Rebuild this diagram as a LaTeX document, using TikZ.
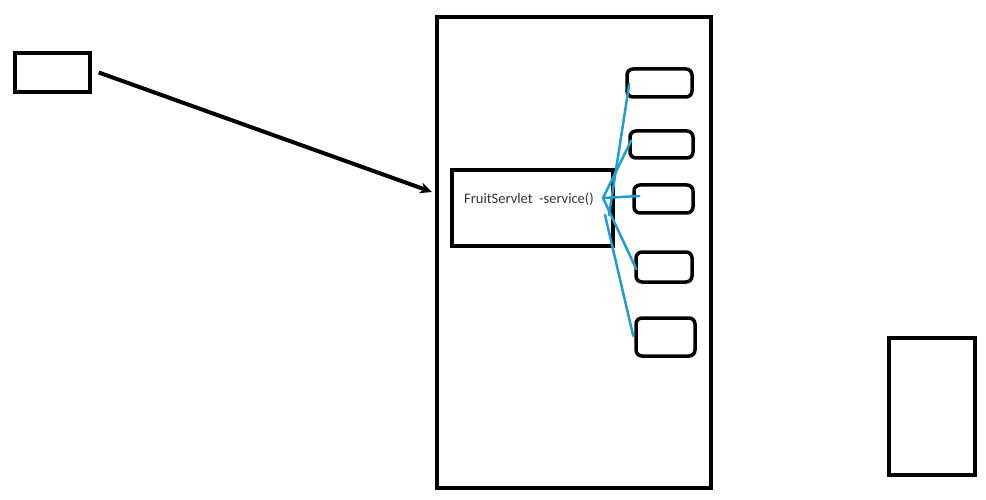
\documentclass[tikz,border=0pt]{standalone}
\usepackage{fontspec}
\setmainfont{Carlito}
\usetikzlibrary{arrows.meta}
\definecolor{ink}{HTML}{000000}
\definecolor{wire}{HTML}{1E9DD8}
\definecolor{label}{HTML}{333333}

\begin{document}
\begin{tikzpicture}[x=1pt,y=-1pt,
    frame/.style={draw=ink,line width=3.5pt,inner sep=0pt},
    slot/.style={frame,rounded corners=6pt},
    wireline/.style={wire,line width=2.5pt,line cap=round}]
  \useasboundingbox (0,0) rectangle (986,500);
  % outside boxes
  \node[frame,minimum width=75pt,minimum height=39pt] (client) at (52.5,72.5) {};
  \node[frame,minimum width=86pt,minimum height=137pt] (store) at (932,406.5) {};
  % container and servlet
  \node[frame,minimum width=274pt,minimum height=471pt] (container) at (574,252.5) {};
  \node[frame,minimum width=161pt,minimum height=76pt] (servlet) at (532.5,208) {};
  \node[anchor=west,text=label,inner sep=0pt] (servletname) at (464,199)
    {\fontsize{14.5}{14.5}\selectfont FruitServlet\ \ -service()};
  % method slots
  \node[slot,minimum width=65pt,minimum height=28pt] (m1) at (659.5,83) {};
  \node[slot,minimum width=63pt,minimum height=27pt] (m2) at (661.5,144.5) {};
  \node[slot,minimum width=59pt,minimum height=28pt] (m3) at (663.5,199) {};
  \node[slot,minimum width=56pt,minimum height=30pt] (m4) at (664,267) {};
  \node[slot,minimum width=59pt,minimum height=38pt] (m5) at (665.5,337) {};
  % request arrow
  \coordinate (entry) at (432,192);
  \draw[ink,line width=4pt,-{Stealth[length=12pt,width=11pt]}]
    ([xshift=7pt]client.east) -- (entry);
  % dispatch lines
  \coordinate (hub) at (603,198);
  \coordinate (hublow) at (605,215);
  \draw[wireline] ([xshift=4pt]hublow) -- ([xshift=4pt,yshift=-1pt]m1.west);
  \draw[wireline] (hub) -- ([xshift=3pt,yshift=4pt]m2.west);
  \draw[wireline] (hub) -- ([xshift=7pt,yshift=3pt]m3.west);
  \draw[wireline] (hub) -- ([xshift=2pt,yshift=-2pt]m4.west);
  \draw[wireline] (hublow) -- ([xshift=-1pt,yshift=1pt]m5.west);
\end{tikzpicture}
\end{document}
